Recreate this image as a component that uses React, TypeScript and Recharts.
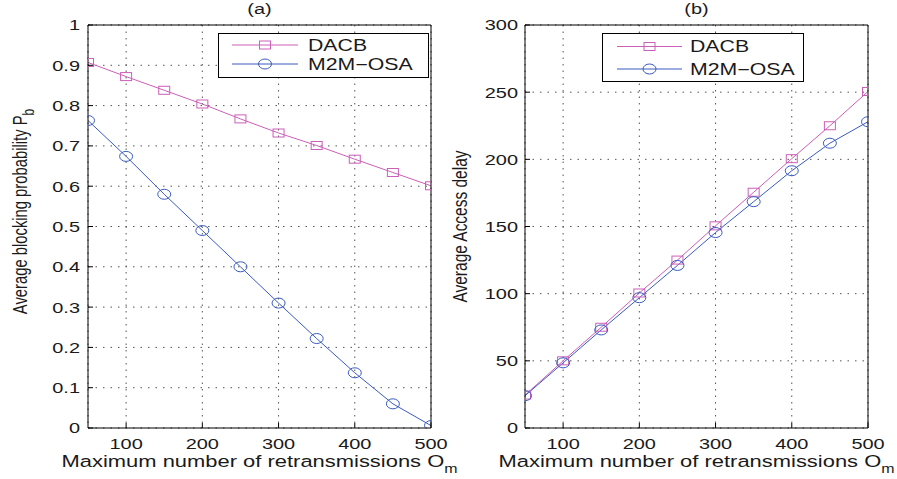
import { CartesianGrid, Legend, Line, LineChart, XAxis, YAxis } from "recharts";

const X_VALUES = [50, 100, 150, 200, 250, 300, 350, 400, 450, 500];
const X_TICKS = [100, 200, 300, 400, 500];

// panel (a): blocking probability
const PB_DACB = [0.907, 0.872, 0.838, 0.804, 0.767, 0.732, 0.701, 0.667, 0.634, 0.601];
const PB_OSA = [0.763, 0.674, 0.58, 0.49, 0.4, 0.31, 0.222, 0.137, 0.06, 0.006];
const PB_TICKS = [0, 0.1, 0.2, 0.3, 0.4, 0.5, 0.6, 0.7, 0.8, 0.9, 1];

// panel (b): access delay
const DELAY_DACB = [24.5, 50, 75, 100.5, 125, 150.5, 175.5, 200.5, 225, 250.5];
const DELAY_OSA = [24, 48.5, 73, 97, 121, 145.5, 168.5, 191.5, 212, 228];
const DELAY_TICKS = [0, 50, 100, 150, 200, 250, 300];

const SERIES = ["DACB", "M2M\u2212OSA"];
const COLORS = ["#CC5FB8", "#3A5BC0"];

const FONT = '"Liberation Sans", Arial, Helvetica, sans-serif';
const SX = 1.33; // figure is exported wider than tall, text comes out stretched
const TICK = 5;

const squareDot = (color: string) => (p: any) =>
  p.cx == null ? (
    <g key={p.index} />
  ) : (
    <rect key={p.index} x={p.cx - 5.5} y={p.cy - 4} width={11} height={8} fill="none" stroke={color} strokeWidth={1} />
  );

const circleDot = (color: string) => (p: any) =>
  p.cx == null ? (
    <g key={p.index} />
  ) : (
    <ellipse key={p.index} cx={p.cx} cy={p.cy} rx={6.5} ry={5} fill="none" stroke={color} strokeWidth={1} />
  );

function StretchText({ x, y, anchor, dy, size, children, rotate }: any) {
  const tf = `translate(${x},${y}) scale(${SX},1)${rotate ? " rotate(-90)" : ""}`;
  return (
    <text transform={tf} textAnchor={anchor} dy={dy} fontSize={size} fontFamily={FONT} fill="#1a1a1a">
      {children}
    </text>
  );
}

const xTick = (p: any) => (
  <StretchText x={p.x} y={p.y} anchor="middle" dy="0.71em" size={15}>
    {p.payload.value}
  </StretchText>
);

const yTick = (fmt: (v: number) => string) => (p: any) => (
  <StretchText x={p.x} y={p.y} anchor="end" dy="0.36em" size={15}>
    {fmt(p.payload.value)}
  </StretchText>
);

function LegendBox({ w, h, rows, lineX, textX }: any) {
  return (
    <svg width={w} height={h} style={{ display: "block" }}>
      <rect x={0.5} y={0.5} width={w - 1} height={h - 1} fill="#fff" stroke="#000" />
      {SERIES.map((name, i) => {
        const cy = rows[i];
        const mx = (lineX[0] + lineX[1]) / 2;
        return (
          <g key={name}>
            <line x1={lineX[0]} x2={lineX[1]} y1={cy} y2={cy} stroke={COLORS[i]} />
            {i === 0 ? (
              <rect x={mx - 5.5} y={cy - 4} width={11} height={8} fill="none" stroke={COLORS[i]} />
            ) : (
              <ellipse cx={mx} cy={cy} rx={6.5} ry={5} fill="none" stroke={COLORS[i]} />
            )}
            <StretchText x={textX} y={cy} anchor="start" dy="0.36em" size={16}>
              {name}
            </StretchText>
          </g>
        );
      })}
    </svg>
  );
}

function Panel(props: any) {
  const {
    left, width, yAxisWidth, tickGap, marginRight, a, b, yDomain, yTicks, yFmt,
    yLabel, yLabelX, yLabelDy, yLabelSize, title, legend,
  } = props;
  const data = X_VALUES.map((x, i) => ({ x, a: a[i], b: b[i] }));
  return (
    <div style={{ position: "absolute", left, top: 0 }}>
      <LineChart width={width} height={479} data={data} margin={{ top: 24, right: marginRight, bottom: 0, left: 0 }}>
        <CartesianGrid horizontal vertical={false} stroke="#555" strokeDasharray="1.5 6" />
        <CartesianGrid horizontal={false} vertical stroke="#555" strokeDasharray="1.5 5" />
        <XAxis
          dataKey="x"
          type="number"
          domain={[50, 500]}
          ticks={X_TICKS}
          allowDataOverflow
          height={51}
          stroke="#000"
          tickSize={-TICK}
          tickMargin={15}
          tick={xTick}
          label={{
            content: ({ viewBox }: any) => (
              <StretchText x={viewBox.x + viewBox.width / 2} y={viewBox.y + 39} anchor="middle" size={16.5}>
                Maximum number of retransmissions O
                <tspan fontSize={12} dy={6}>m</tspan>
              </StretchText>
            ),
          }}
        />
        <XAxis
          xAxisId="top"
          orientation="top"
          type="number"
          domain={[50, 500]}
          ticks={X_TICKS}
          allowDataOverflow
          height={1}
          stroke="#000"
          tickSize={-TICK}
          tick={false}
          label={{
            content: ({ viewBox }: any) => (
              <StretchText x={viewBox.x + viewBox.width / 2} y={viewBox.y - 10} anchor="middle" size={15}>
                {title}
              </StretchText>
            ),
          }}
        />
        <YAxis
          type="number"
          domain={yDomain}
          ticks={yTicks}
          allowDataOverflow
          width={yAxisWidth}
          stroke="#000"
          tickSize={-TICK}
          tickMargin={tickGap}
          tick={yTick(yFmt)}
          label={{
            content: ({ viewBox }: any) => (
              <StretchText
                x={viewBox.x + yLabelX}
                y={viewBox.y + viewBox.height / 2 + yLabelDy}
                anchor="middle"
                size={yLabelSize}
                rotate
              >
                {yLabel}
              </StretchText>
            ),
          }}
        />
        <YAxis
          yAxisId="right"
          orientation="right"
          type="number"
          domain={yDomain}
          ticks={yTicks}
          allowDataOverflow
          width={1}
          stroke="#000"
          tickSize={-TICK}
          tick={false}
        />
        <Legend
          layout="vertical"
          align="center"
          verticalAlign="middle"
          width={legend.w}
          height={legend.h}
          wrapperStyle={{ left: legend.left, top: legend.top, width: legend.w, height: legend.h }}
          content={() => <LegendBox {...legend} />}
        />
        <Line
          type="linear"
          dataKey="a"
          name={SERIES[0]}
          stroke={COLORS[0]}
          strokeWidth={1}
          dot={squareDot(COLORS[0])}
          activeDot={false}
          isAnimationActive={false}
        />
        <Line
          type="linear"
          dataKey="b"
          name={SERIES[1]}
          stroke={COLORS[1]}
          strokeWidth={1}
          dot={circleDot(COLORS[1])}
          activeDot={false}
          isAnimationActive={false}
        />
      </LineChart>
    </div>
  );
}

export default function App() {
  return (
    <div style={{ position: "absolute", left: 0, top: 0, width: 897, height: 479, background: "#fff", overflow: "hidden" }}>
      <Panel
        left={0}
        width={525}
        yAxisWidth={88}
        tickGap={13}
        marginRight={93}
        a={PB_DACB}
        b={PB_OSA}
        yDomain={[0, 1]}
        yTicks={PB_TICKS}
        yFmt={(v: number) => String(v)}
        yLabelX={27}
        yLabelDy={-15}
        yLabelSize={14.8}
        yLabel={
          <>
            Average blocking probability P
            <tspan fontSize={12} dy={5}>b</tspan>
          </>
        }
        title="(a)"
        legend={{ left: 218, top: 33, w: 211, h: 45, rows: [12, 31], lineX: [14, 80], textX: 90 }}
      />
      <Panel
        left={430}
        width={467}
        yAxisWidth={95}
        tickGap={12}
        marginRight={28}
        a={DELAY_DACB}
        b={DELAY_OSA}
        yDomain={[0, 300]}
        yTicks={DELAY_TICKS}
        yFmt={(v: number) => String(v)}
        yLabelX={37}
        yLabelDy={0}
        yLabelSize={15.5}
        yLabel="Average Access delay"
        title="(b)"
        legend={{ left: 172, top: 33, w: 202, h: 49, rows: [13.5, 36], lineX: [15, 80], textX: 88 }}
      />
    </div>
  );
}
